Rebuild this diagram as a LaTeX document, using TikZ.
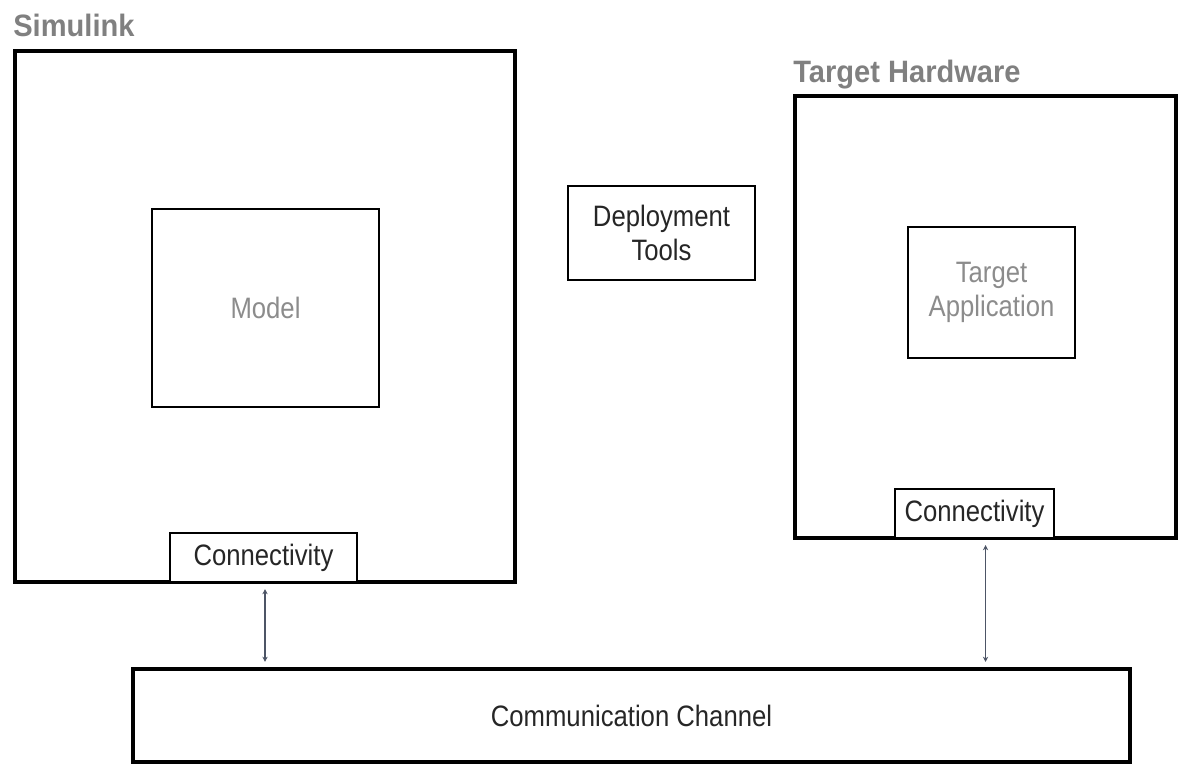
\documentclass[tikz,border=0pt]{standalone}
\usepackage{fontspec}
\setmainfont{Liberation Sans}
\newfontfamily\boxfont[FakeStretch=0.87]{Liberation Sans}
\newfontfamily\headfont[FakeStretch=0.94]{Liberation Sans}
\usetikzlibrary{shapes,arrows.meta,positioning}
\usepackage{xcolor}
\definecolor{headgray}{HTML}{808080}
\definecolor{softgray}{HTML}{8C8C8C}
\definecolor{linkgray}{HTML}{4D5566}

\begin{document}
\begin{tikzpicture}[
outer/.style={rectangle, draw, line width=2pt, inner sep=0pt},
block/.style={rectangle, draw, line width=1.1pt, fill=white, inner sep=0pt, align=center,
  font=\boxfont\fontsize{16.8}{19.5}\selectfont, text=black!85},
heading/.style={anchor=base west, inner sep=0pt, text=headgray,
  font=\headfont\bfseries\fontsize{17.6}{20}\selectfont},
link/.style={{Stealth[length=3pt,width=3pt]}-{Stealth[length=3pt,width=3pt]}, linkgray, line width=0.9pt, shorten <=3pt, shorten >=3pt},
]
\useasboundingbox (0,0) rectangle (23.56,15.28);

% Simulink
\node[outer, minimum width=10cm, minimum height=10.62cm] (sim) at (5.30,8.95) {};
\node[heading] (simT) at (0.26,14.54) {Simulink};
\node[block, minimum width=4.54cm, minimum height=3.96cm, text=softgray] (model) at (5.31,9.12) {Model};
\node[block, minimum width=3.74cm, minimum height=0.98cm] (connL) at (5.27,4.13) {Connectivity};

% Deployment
\node[block, minimum width=3.74cm, minimum height=1.88cm] (deploy) at (13.23,10.62) {Deployment\\Tools};

% Target Hardware
\node[outer, minimum width=7.62cm, minimum height=8.84cm] (hw) at (19.71,8.94) {};
\node[heading] (hwT) at (15.86,13.62) {Target Hardware};
\node[block, minimum width=3.34cm, minimum height=2.62cm, text=softgray] (app) at (19.83,9.43) {Target\\Application};
\node[block, minimum width=3.18cm, minimum height=0.98cm] (connR) at (19.49,5.01) {Connectivity};

% Channel
\node[outer, minimum width=19.94cm, minimum height=1.86cm, align=center,
  font=\boxfont\fontsize{16.8}{19.5}\selectfont, text=black!85] (comm) at (12.63,0.97) {Communication Channel};

% Verbindungen
\draw[link] (sim.south) -- (comm.north -| sim.south);
\draw[link] (hw.south) -- (comm.north -| hw.south);

\end{tikzpicture}
\end{document}
